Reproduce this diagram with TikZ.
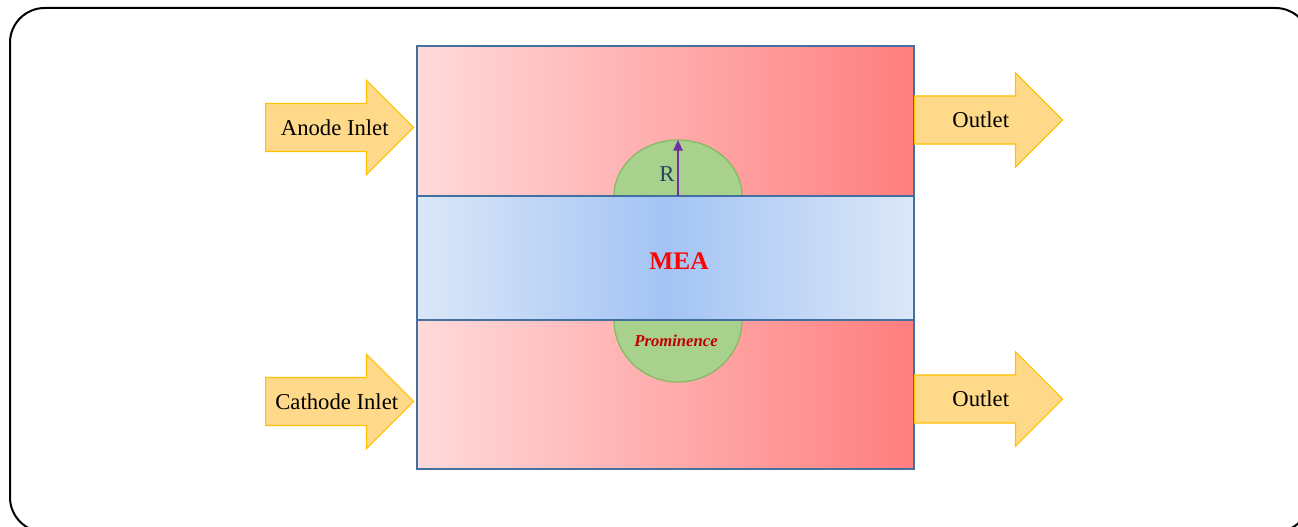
\documentclass[tikz,border=0pt]{standalone}
\usepackage{fontspec}
\setmainfont{Liberation Serif}
\usepackage{xcolor}
\usepackage{tikz}
\usetikzlibrary{positioning,shapes.arrows,arrows.meta,calc}

\definecolor{chanlight}{RGB}{255,218,219}
\definecolor{chandark}{RGB}{255,126,126}
\definecolor{mealight}{RGB}{220,231,248}
\definecolor{meadark}{RGB}{163,196,244}
\definecolor{cellline}{RGB}{68,112,160}
\definecolor{promfill}{RGB}{169,209,142}
\definecolor{promline}{RGB}{130,186,95}
\definecolor{flowfill}{RGB}{255,217,138}
\definecolor{flowline}{RGB}{255,192,0}
\definecolor{radcolor}{RGB}{112,48,160}
\definecolor{promtext}{RGB}{192,0,0}

\begin{document}
\begin{tikzpicture}[x=0.75pt,y=0.75pt,yscale=-1,xscale=1,
  flow/.style={single arrow, draw=flowline, fill=flowfill, line width=0.9pt,
    minimum height=111pt, single arrow head extend=17.25pt, single arrow head indent=0pt,
    text height=12pt, text depth=4pt, inner ysep=9.6pt, inner xsep=0pt},
  flowtext/.style={font=\fontsize{17}{20}\selectfont, inner sep=0pt},
  channel/.style={left color=chanlight, right color=chandark},
  cellbox/.style={draw=cellline, line width=1.8pt},
  bump/.style={fill=promfill, draw=promline, line width=0.9pt}]
\useasboundingbox (0,0) rectangle (1298,527);
\clip (0,0) rectangle (1298,527);

%frame
\draw [line width=1.5pt, rounded corners=26pt] (10,8) rectangle (1310,532);

%channels and membrane
\shade [channel] (417,46) rectangle (914,196);
\shade [channel] (417,320) rectangle (914,469);
\shade [left color=mealight, right color=mealight, middle color=meadark] (417,196) rectangle (914,320);

%prominences
\draw [bump] (614,196) arc [start angle=180, end angle=360, x radius=64, y radius=56];
\draw [bump] (614,320) arc [start angle=180, end angle=0, x radius=64, y radius=62];

%borders
\draw [cellbox] (417,46) rectangle (914,469);
\draw [cellbox] (417,196) -- (914,196);
\draw [cellbox] (417,320) -- (914,320);

%radius
\coordinate (rbase) at (678,196);
\coordinate (rtip) at (678,140);
\draw [radcolor, line width=1.4pt, -{Triangle[length=8pt,width=7pt]}] (rbase) -- (rtip);
\node (rlabel) at (667,174) [font=\fontsize{17}{20}\selectfont, text=cellline!60!black] {R};

%labels
\node (mea) at (679,261) [font=\fontsize{19}{22}\selectfont\bfseries, text=red] {MEA};
\node (prominence) at (676,341) [font=\fontsize{12.5}{15}\selectfont\bfseries\itshape, text=promtext] {Prominence};

%flow arrows
\node (anodein) [flow, anchor=tail] at (265,127.5) {};
\node (cathodein) [flow, anchor=tail] at (265,401.5) {};
\node (anodeout) [flow, anchor=tail] at (914,120) {};
\node (cathodeout) [flow, anchor=tail] at (914,399) {};

\node (anodetext) [flowtext] at ($(anodein.tail)!0.5!(anodein.tip)+(-5,0)$) {Anode Inlet};
\node (cathodetext) [flowtext] at ($(cathodein.tail)!0.5!(cathodein.tip)+(-3,0)$) {Cathode Inlet};
\node (anodeouttext) [flowtext] at ($(anodeout.tail)!0.5!(anodeout.tip)+(-8,0)$) {Outlet};
\node (cathodeouttext) [flowtext] at ($(cathodeout.tail)!0.5!(cathodeout.tip)+(-8,0)$) {Outlet};

\end{tikzpicture}
\end{document}
